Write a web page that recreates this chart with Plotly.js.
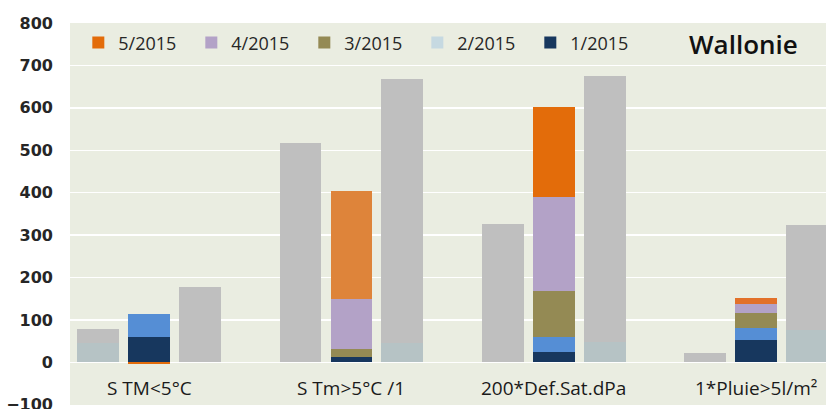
<!DOCTYPE html>
<html><head><meta charset="utf-8">
<script src="https://cdn.plot.ly/plotly-3.0.1.min.js"></script>
<style>html,body{margin:0;padding:0;background:#fff}#chart{width:826px;height:409px}</style>
</head><body><div id="chart"></div>
<script>
const categories = ['S TM<5°C', 'S Tm>5°C /1', '200*Def.Sat.dPa', '1*Pluie>5l/m²'];
const months = ['1/2015', '2/2015', '3/2015', '4/2015', '5/2015'];
const m1 = [61, 12, 25, 53];
const m2 = [53, 0, 36, 29];
const m3 = [0, 19, 107, 35];
const m4 = [0, 119, 222, 21];
const m5 = [-4, 254, 212, 13];
const leftLow = [46, 0, 0, 0];
const leftTotal = [78, 518, 326, 22];
const rightLow = [0, 45, 49, 77];
const rightTotal = [177, 669, 676, 324];
const chartTitle = 'Wallonie';
const yTicks = [-100, 0, 100, 200, 300, 400, 500, 600, 700, 800];

const idx = categories.map((c, i) => i);
const OFF = 0.252, W = 0.207;
const monthVals = [m1, m2, m3, m4, m5];
const monthColors = ['#17375E', '#558ED5', '#948A54', '#B3A2C7', ['#E36C0A', '#DE843A', '#E36C0A', '#E2712A']];
const legendColors = ['#17375E', '#C6D9E1', '#948A54', '#B3A2C7', '#E07B39'];
const GRAY = '#BFBFBF', BLUEGRAY = '#B6C3C5';

const traces = [];
function grayPair(xs, low, total) {
  traces.push({type: 'bar', x: xs, y: low, width: W, marker: {color: BLUEGRAY, line: {width: 0}}, showlegend: false, hoverinfo: 'skip'});
  traces.push({type: 'bar', x: xs, y: total.map((t, i) => t - low[i]), width: W, marker: {color: GRAY, line: {width: 0}}, showlegend: false, hoverinfo: 'skip'});
}
grayPair(idx.map(i => i - OFF), leftLow, leftTotal);
grayPair(idx.map(i => i + OFF), rightLow, rightTotal);
monthVals.forEach((vals, k) => {
  const sameLegend = k !== 1;
  traces.push({type: 'bar', x: idx, y: vals, width: W, name: months[k],
    marker: {color: monthColors[k], line: {width: 0}},
    showlegend: sameLegend, legendrank: 10 - k});
  if (!sameLegend) {
    traces.push({type: 'bar', x: [null], y: [null], width: W, name: months[k],
      marker: {color: legendColors[k]}, showlegend: true, legendrank: 10 - k});
  }
});

const annotations = categories.map((c, i) => ({
  x: i, y: -61, xref: 'x', yref: 'y', text: c, showarrow: false,
  font: {family: 'Open Sans', size: 19, color: '#1a1a1a'}
}));
annotations.push({x: 0.8915, y: 0.945, xref: 'paper', yref: 'paper', text: chartTitle, showarrow: false,
  xanchor: 'center', yanchor: 'middle', font: {family: 'Open Sans', size: 26, color: '#111', weight: 600}});

const layout = {
  width: 826, height: 409,
  margin: {l: 70, r: 0, t: 23, b: 4, pad: 0},
  paper_bgcolor: '#FFFFFF', plot_bgcolor: '#EAEDE1',
  barmode: 'relative', bargap: 0,
  showlegend: true,
  legend: {orientation: 'h', x: 0.011, xanchor: 'left', y: 0.948, yanchor: 'middle',
    bgcolor: 'rgba(0,0,0,0)', font: {family: 'Open Sans', size: 18, color: '#262626'},
    traceorder: 'normal', entrywidth: 68, entrywidthmode: 'pixels'},
  xaxis: {range: [-0.392, 3.347], showgrid: false, zeroline: false, showticklabels: false, ticks: '', fixedrange: true},
  yaxis: {range: [-100.3, 800], tickvals: yTicks, showgrid: true, gridcolor: '#FFFFFF', gridwidth: 1.5,
    zeroline: true, zerolinecolor: '#FFFFFF', zerolinewidth: 1.5, ticks: '', ticklabelstandoff: 16,
    ticklabeloverflow: 'allow',
    tickfont: {family: 'DejaVu Sans', size: 16, color: '#262626', weight: 'bold'}},
  annotations: annotations
};
Plotly.newPlot('chart', traces, layout, {displayModeBar: false, staticPlot: true});
</script></body></html>
